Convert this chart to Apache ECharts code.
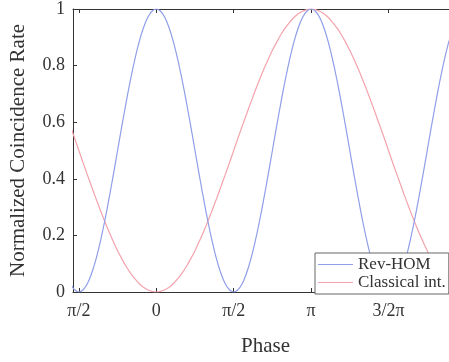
<!DOCTYPE html>
<html>
<head>
<meta charset="utf-8">
<script src="https://cdn.jsdelivr.net/npm/echarts@6/dist/echarts.min.js"></script>
<style>html,body{margin:0;padding:0;background:#fff}#c{width:449px;height:362px}</style>
</head>
<body>
<div id="c"></div>
<script>
// Phase samples (degrees)
const phaseDeg = [-100,-95,-90,-85,-80,-75,-70,-65,-60,-55,-50,-45,-40,-35,-30,-25,-20,-15,-10,-5,
  0,5,10,15,20,25,30,35,40,45,50,55,60,65,70,75,80,85,
  90,95,100,105,110,115,120,125,130,135,140,145,150,155,160,165,170,175,
  180,185,190,195,200,205,210,215,220,225,230,235,240,245,250,255,260,265,
  270,275,280,285,290,295,300,305,310,315,320,325,330,335,340,345];
const revHOM = [.030,.008,0,.008,.030,.067,.117,.179,.250,.329,.413,.500,.587,.671,.750,.821,.883,.933,.970,.992,
  1,.992,.970,.933,.883,.821,.750,.671,.587,.500,.413,.329,.250,.179,.117,.067,.030,.008,
  0,.008,.030,.067,.117,.179,.250,.329,.413,.500,.587,.671,.750,.821,.883,.933,.970,.992,
  1,.992,.970,.933,.883,.821,.750,.671,.587,.500,.413,.329,.250,.179,.117,.067,.030,.008,
  0,.008,.030,.067,.117,.179,.250,.329,.413,.500,.587,.671,.750,.821,.883,.933];
const classical = [.587,.544,.500,.456,.413,.371,.329,.289,.250,.213,.179,.146,.117,.090,.067,.047,.030,.017,.008,.002,
  0,.002,.008,.017,.030,.047,.067,.090,.117,.146,.179,.213,.250,.289,.329,.371,.413,.456,
  .500,.544,.587,.629,.671,.711,.750,.787,.821,.854,.883,.910,.933,.953,.970,.983,.992,.998,
  1,.998,.992,.983,.970,.953,.933,.910,.883,.854,.821,.787,.750,.711,.671,.629,.587,.544,
  .500,.456,.413,.371,.329,.289,.250,.213,.179,.146,.117,.090,.067,.047,.030,.017];
const xTickValues = [-Math.PI/2, 0, Math.PI/2, Math.PI, 3*Math.PI/2];
const xTickLabels = ['π/2', '0', 'π/2', 'π', '3/2π'];
const seriesNames = ['Rev-HOM', 'Classical int.'];

const toRad = d => d * Math.PI / 180;
const pts = arr => phaseDeg.map((d, i) => [toRad(d), arr[i]]);

const font = "'Liberation Serif', 'Times New Roman', 'DejaVu Serif', serif";
const axisColor = '#333';
const chart = echarts.init(document.getElementById('c'), null, {renderer: 'canvas'});
chart.setOption({
  animation: false,
  grid: {left: 64, top: 7, right: 0, bottom: 58},
  xAxis: [{
    type: 'value', min: -1.69, max: 5.94,
    name: 'Phase', nameLocation: 'middle', nameGap: 44,
    nameTextStyle: {fontFamily: font, fontSize: 21, color: '#333', padding: [0, 0, 0, 9]},
    axisLine: {show: true, onZero: false, lineStyle: {color: axisColor, width: 1}},
    axisTick: {show: true, inside: true, length: 4, customValues: xTickValues, lineStyle: {color: axisColor}},
    axisLabel: {
      customValues: xTickValues, margin: 10,
      fontFamily: font, fontSize: 18, color: '#333',
      formatter: v => { const i = xTickValues.findIndex(t => Math.abs(t - v) < 1e-6); return i >= 0 ? xTickLabels[i] : ''; }
    },
    splitLine: {show: false}
  }, {
    type: 'value', position: 'top', min: -1.69, max: 5.94,
    axisLine: {show: true, onZero: false, lineStyle: {color: axisColor, width: 1}},
    axisTick: {show: true, inside: true, length: 4, customValues: xTickValues, lineStyle: {color: axisColor}},
    axisLabel: {show: false}, splitLine: {show: false}
  }],
  yAxis: {
    type: 'value', min: 0, max: 1, interval: 0.2,
    name: 'Normalized Coincidence Rate', nameLocation: 'middle', nameGap: 44,
    nameTextStyle: {fontFamily: font, fontSize: 21, color: '#333'},
    axisLine: {show: true, onZero: false, lineStyle: {color: axisColor, width: 1}},
    axisTick: {show: true, inside: true, length: 4, lineStyle: {color: axisColor}},
    axisLabel: {margin: 8, fontFamily: font, fontSize: 18, color: '#333'},
    splitLine: {show: false}
  },
  legend: {
    orient: 'vertical', left: 315, top: 253,
    padding: [3, 3, 3, 3], itemGap: 1, itemWidth: 35, itemHeight: 17,
    backgroundColor: '#fff', borderColor: '#666', borderWidth: 1,
    textStyle: {fontFamily: font, fontSize: 17, color: '#333', lineHeight: 17},
    data: seriesNames.map(n => ({name: n, icon: 'path://M0,0 L35,0 L35,1 L0,1 Z'}))
  },
  series: [{
    name: seriesNames[0], type: 'line', data: pts(revHOM), smooth: 0.3, symbol: 'none', xAxisIndex: 0,
    lineStyle: {color: '#8f9ee8', width: 1.2}, itemStyle: {color: '#8f9ee8'}, z: 3
  }, {
    name: seriesNames[1], type: 'line', data: pts(classical), smooth: 0.3, symbol: 'none', xAxisIndex: 0,
    lineStyle: {color: '#f4a3ad', width: 1.2}, itemStyle: {color: '#f4a3ad'}, z: 2
  }]
});
</script>
</body>
</html>
